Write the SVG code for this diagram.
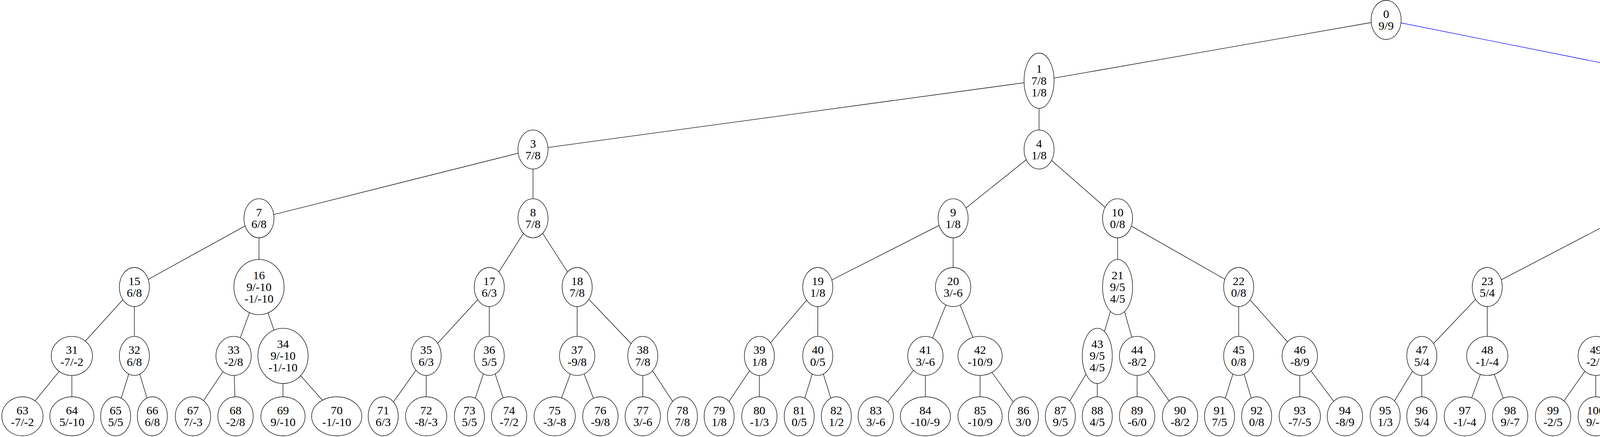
<svg xmlns="http://www.w3.org/2000/svg" width="7200" height="1119" viewBox="0 0 7200 1119">
<style>
.node ellipse{fill:#fff;stroke:#000;stroke-width:1.3}
.node text{font-family:"Liberation Serif","Times New Roman",serif;font-size:30.4px;text-anchor:middle;fill:#000}
#edges path{fill:none;stroke:#000;stroke-width:1.3}
#edges path.b{stroke:#0000ff}
</style>
<rect width="7200" height="1119" fill="#fff"/>
<g id="edges">
<path d="M3548.5 51L2660 206.7"/>
<path class="b" d="M3548.5 51L4328.6 206.7"/>
<path d="M2660 206.7L1364.5 382.8"/>
<path d="M2660 206.7L2660 382.8"/>
<path d="M4328.6 206.7L4328.6 382.8"/>
<path class="b" d="M4328.6 206.7L5769 382.8"/>
<path d="M1364.5 382.8L663 558.9"/>
<path d="M1364.5 382.8L1364.5 558.9"/>
<path d="M2660 382.8L2440 558.9"/>
<path d="M2660 382.8L2861 558.9"/>
<path d="M4328.6 382.8L4145.6 558.9"/>
<path d="M4328.6 382.8L4630.9 558.9"/>
<path class="b" d="M5769 382.8L5769 558.9"/>
<path d="M5769 382.8L6519 558.9"/>
<path d="M663 558.9L344 735"/>
<path d="M663 558.9L663 735"/>
<path d="M1364.5 558.9L1252.5 735"/>
<path d="M1364.5 558.9L1477.5 735"/>
<path d="M2440 558.9L2093.5 735"/>
<path d="M2440 558.9L2440 735"/>
<path d="M2861 558.9L2861 735"/>
<path d="M2861 558.9L3171 735"/>
<path d="M4145.6 558.9L3807.4 735"/>
<path d="M4145.6 558.9L4145.6 735"/>
<path d="M4630.9 558.9L4630.9 735"/>
<path d="M4630.9 558.9L4979 735"/>
<path class="b" d="M5769 558.9L5709 735"/>
<path d="M5769 558.9L5948.5 735"/>
<path d="M6519 558.9L6519 735"/>
<path d="M6519 558.9L6861 735"/>
<path d="M344 735L184 911.3"/>
<path d="M344 735L344 911.3"/>
<path d="M663 735L598 911.3"/>
<path d="M663 735L724.5 911.3"/>
<path d="M1252.5 735L1091 911.3"/>
<path d="M1252.5 735L1252.5 911.3"/>
<path d="M1477.5 735L1477.5 911.3"/>
<path d="M1477.5 735L1645.5 911.3"/>
<path d="M2093.5 735L1944 911.3"/>
<path d="M2093.5 735L2093.5 911.3"/>
<path d="M2440 735L2369 911.3"/>
<path d="M2440 735L2509 911.3"/>
<path d="M2861 735L2809 911.3"/>
<path d="M2861 735L2911 911.3"/>
<path d="M3171 735L3171 911.3"/>
<path d="M3171 735L3327.5 911.3"/>
<path d="M3807.4 735L3639.8 911.3"/>
<path d="M3807.4 735L3807.4 911.3"/>
<path d="M4145.6 735L4085.2 911.3"/>
<path d="M4145.6 735L4206.1 911.3"/>
<path d="M4630.9 735L4569.6 911.3"/>
<path d="M4630.9 735L4691 911.3"/>
<path d="M4979 735L4979 911.3"/>
<path d="M4979 735L5157.4 911.3"/>
<path class="b" d="M5709 735L5517.8 911.3"/>
<path d="M5709 735L5709 911.3"/>
<path d="M5948.5 735L5948.5 911.3"/>
<path d="M5948.5 735L6120 911.3"/>
<path d="M6519 735L6463.4 911.3"/>
<path d="M6519 735L6573 911.3"/>
<path d="M6861 735L6861 911.3"/>
<path d="M6861 735L7040 911.3"/>
<path d="M184 911.3L57.4 1066"/>
<path d="M184 911.3L184 1066"/>
<path d="M344 911.3L296 1066"/>
<path d="M344 911.3L390 1066"/>
<path d="M598 911.3L494 1066"/>
<path d="M598 911.3L603 1066"/>
<path d="M724.5 911.3L724.5 1066"/>
<path d="M724.5 911.3L862 1066"/>
<path d="M1091 911.3L981 1066"/>
<path d="M1091 911.3L1091 1066"/>
<path d="M1252.5 911.3L1201.7 1066"/>
<path d="M1252.5 911.3L1303.3 1066"/>
<path d="M1477.5 911.3L1420 1066"/>
<path d="M1477.5 911.3L1537 1066"/>
<path d="M1645.5 911.3L1645.5 1066"/>
<path d="M1645.5 911.3L1747 1066"/>
<path d="M1944 911.3L1841 1066"/>
<path d="M1944 911.3L1944 1066"/>
<path d="M2093.5 911.3L2046 1066"/>
<path d="M2093.5 911.3L2141 1066"/>
<path d="M2369 911.3L2242 1066"/>
<path d="M2369 911.3L2369 1066"/>
<path d="M2509 911.3L2509 1066"/>
<path d="M2509 911.3L2620 1066"/>
<path d="M2809 911.3L2714.5 1066"/>
<path d="M2809 911.3L2809 1066"/>
<path d="M2911 911.3L2911 1066"/>
<path d="M2911 911.3L3021 1066"/>
<path d="M3171 911.3L3122 1066"/>
<path d="M3171 911.3L3217 1066"/>
<path d="M3327.5 911.3L3327.5 1066"/>
<path d="M3327.5 911.3L3443 1066"/>
<path d="M3639.8 911.3L3546 1066"/>
<path d="M3639.8 911.3L3639.8 1066"/>
<path d="M3807.4 911.3L3750 1066"/>
<path d="M3807.4 911.3L3866 1066"/>
<path d="M4085.2 911.3L3975.8 1066"/>
<path d="M4085.2 911.3L4085.2 1066"/>
<path d="M4206.1 911.3L4206.1 1066"/>
<path d="M4206.1 911.3L4327 1066"/>
<path d="M4569.6 911.3L4442.6 1066"/>
<path d="M4569.6 911.3L4569.6 1066"/>
<path d="M4691 911.3L4691 1066"/>
<path d="M4691 911.3L4800.5 1066"/>
<path d="M4979 911.3L4916 1066"/>
<path d="M4979 911.3L5041 1066"/>
<path d="M5157.4 911.3L5157.4 1066"/>
<path d="M5157.4 911.3L5276.8 1066"/>
<path d="M5517.8 911.3L5404.6 1066"/>
<path class="b" d="M5517.8 911.3L5517.8 1066"/>
<path d="M5709 911.3L5642.6 1066"/>
<path d="M5709 911.3L5777.3 1066"/>
<path d="M5948.5 911.3L5894 1066"/>
<path d="M5948.5 911.3L6003.3 1066"/>
<path d="M6120 911.3L6120 1066"/>
<path d="M6120 911.3L6233.4 1066"/>
<path d="M6463.4 911.3L6347.4 1066"/>
<path d="M6463.4 911.3L6463.4 1066"/>
<path d="M6573 911.3L6573 1066"/>
<path d="M6573 911.3L6683.4 1066"/>
<path d="M6861 911.3L6799.7 1066"/>
<path d="M6861 911.3L6923.7 1066"/>
<path d="M7040 911.3L7040 1066"/>
<path d="M7040 911.3L7150.2 1066"/>
</g>
<g id="n0" class="node"><ellipse cx="3548.5" cy="51" rx="38.5" ry="50"/><text x="3548.5" y="45.7">0</text><text x="3548.5" y="76.2">9/9</text></g>
<g id="n1" class="node"><ellipse cx="2660" cy="206.7" rx="38.5" ry="70.7"/><text x="2660" y="186.2">1</text><text x="2660" y="216.5">7/8</text><text x="2660" y="246.8">1/8</text></g>
<g id="n2" class="node"><ellipse cx="4328.6" cy="206.7" rx="38.5" ry="50"/><text x="4328.6" y="201.4">2</text><text x="4328.6" y="231.9">9/9</text></g>
<g id="n3" class="node"><ellipse cx="1364.5" cy="382.8" rx="38.5" ry="50"/><text x="1364.5" y="377.5">3</text><text x="1364.5" y="408">7/8</text></g>
<g id="n4" class="node"><ellipse cx="2660" cy="382.8" rx="38.5" ry="50"/><text x="2660" y="377.5">4</text><text x="2660" y="408">1/8</text></g>
<g id="n5" class="node"><ellipse cx="4328.6" cy="382.8" rx="45.2" ry="70.7"/><text x="4328.6" y="362.3">5</text><text x="4328.6" y="392.6">-2/5</text><text x="4328.6" y="422.9">-2/4</text></g>
<g id="n6" class="node"><ellipse cx="5769" cy="382.8" rx="38.5" ry="50"/><text x="5769" y="377.5">6</text><text x="5769" y="408">9/9</text></g>
<g id="n7" class="node"><ellipse cx="663" cy="558.9" rx="38.5" ry="50"/><text x="663" y="553.6">7</text><text x="663" y="584.1">6/8</text></g>
<g id="n8" class="node"><ellipse cx="1364.5" cy="558.9" rx="38.5" ry="50"/><text x="1364.5" y="553.6">8</text><text x="1364.5" y="584.1">7/8</text></g>
<g id="n9" class="node"><ellipse cx="2440" cy="558.9" rx="38.5" ry="50"/><text x="2440" y="553.6">9</text><text x="2440" y="584.1">1/8</text></g>
<g id="n10" class="node"><ellipse cx="2861" cy="558.9" rx="38.5" ry="50"/><text x="2861" y="553.6">10</text><text x="2861" y="584.1">0/8</text></g>
<g id="n11" class="node"><ellipse cx="4145.6" cy="558.9" rx="45.2" ry="70.7"/><text x="4145.6" y="538.4">11</text><text x="4145.6" y="568.7">-2/5</text><text x="4145.6" y="599">-2/4</text></g>
<g id="n12" class="node"><ellipse cx="4630.9" cy="558.9" rx="45.2" ry="70.7"/><text x="4630.9" y="538.4">12</text><text x="4630.9" y="568.7">-7/1</text><text x="4630.9" y="599">-4/1</text></g>
<g id="n13" class="node"><ellipse cx="5769" cy="558.9" rx="38.5" ry="50"/><text x="5769" y="553.6">13</text><text x="5769" y="584.1">9/9</text></g>
<g id="n14" class="node"><ellipse cx="6519" cy="558.9" rx="52.8" ry="50"/><text x="6519" y="553.6">14</text><text x="6519" y="584.1">-4/-1</text></g>
<g id="n15" class="node"><ellipse cx="344" cy="735" rx="38.5" ry="50"/><text x="344" y="729.7">15</text><text x="344" y="760.2">6/8</text></g>
<g id="n16" class="node"><ellipse cx="663" cy="735" rx="64.3" ry="70.7"/><text x="663" y="714.5">16</text><text x="663" y="744.8">9/-10</text><text x="663" y="775.1">-1/-10</text></g>
<g id="n17" class="node"><ellipse cx="1252.5" cy="735" rx="38.5" ry="50"/><text x="1252.5" y="729.7">17</text><text x="1252.5" y="760.2">6/3</text></g>
<g id="n18" class="node"><ellipse cx="1477.5" cy="735" rx="38.5" ry="50"/><text x="1477.5" y="729.7">18</text><text x="1477.5" y="760.2">7/8</text></g>
<g id="n19" class="node"><ellipse cx="2093.5" cy="735" rx="38.5" ry="50"/><text x="2093.5" y="729.7">19</text><text x="2093.5" y="760.2">1/8</text></g>
<g id="n20" class="node"><ellipse cx="2440" cy="735" rx="45.2" ry="50"/><text x="2440" y="729.7">20</text><text x="2440" y="760.2">3/-6</text></g>
<g id="n21" class="node"><ellipse cx="2861" cy="735" rx="38.5" ry="70.7"/><text x="2861" y="714.5">21</text><text x="2861" y="744.8">9/5</text><text x="2861" y="775.1">4/5</text></g>
<g id="n22" class="node"><ellipse cx="3171" cy="735" rx="38.5" ry="50"/><text x="3171" y="729.7">22</text><text x="3171" y="760.2">0/8</text></g>
<g id="n23" class="node"><ellipse cx="3807.4" cy="735" rx="38.5" ry="50"/><text x="3807.4" y="729.7">23</text><text x="3807.4" y="760.2">5/4</text></g>
<g id="n24" class="node"><ellipse cx="4145.6" cy="735" rx="45.2" ry="70.7"/><text x="4145.6" y="714.5">24</text><text x="4145.6" y="744.8">-2/5</text><text x="4145.6" y="775.1">-2/4</text></g>
<g id="n25" class="node"><ellipse cx="4630.9" cy="735" rx="45.2" ry="70.7"/><text x="4630.9" y="714.5">25</text><text x="4630.9" y="744.8">-7/1</text><text x="4630.9" y="775.1">-4/1</text></g>
<g id="n26" class="node"><ellipse cx="4979" cy="735" rx="45.2" ry="50"/><text x="4979" y="729.7">26</text><text x="4979" y="760.2">6/-8</text></g>
<g id="n27" class="node"><ellipse cx="5709" cy="735" rx="38.5" ry="50"/><text x="5709" y="729.7">27</text><text x="5709" y="760.2">9/9</text></g>
<g id="n28" class="node"><ellipse cx="5948.5" cy="735" rx="38.5" ry="50"/><text x="5948.5" y="729.7">28</text><text x="5948.5" y="760.2">6/5</text></g>
<g id="n29" class="node"><ellipse cx="6519" cy="735" rx="45.2" ry="50"/><text x="6519" y="729.7">29</text><text x="6519" y="760.2">2/-7</text></g>
<g id="n30" class="node"><ellipse cx="6861" cy="735" rx="52.8" ry="50"/><text x="6861" y="729.7">30</text><text x="6861" y="760.2">-4/-1</text></g>
<g id="n31" class="node"><ellipse cx="184" cy="911.3" rx="52.8" ry="50"/><text x="184" y="906">31</text><text x="184" y="936.5">-7/-2</text></g>
<g id="n32" class="node"><ellipse cx="344" cy="911.3" rx="38.5" ry="50"/><text x="344" y="906">32</text><text x="344" y="936.5">6/8</text></g>
<g id="n33" class="node"><ellipse cx="598" cy="911.3" rx="45.2" ry="50"/><text x="598" y="906">33</text><text x="598" y="936.5">-2/8</text></g>
<g id="n34" class="node"><ellipse cx="724.5" cy="911.3" rx="64.3" ry="70.7"/><text x="724.5" y="890.8">34</text><text x="724.5" y="921.1">9/-10</text><text x="724.5" y="951.4">-1/-10</text></g>
<g id="n35" class="node"><ellipse cx="1091" cy="911.3" rx="38.5" ry="50"/><text x="1091" y="906">35</text><text x="1091" y="936.5">6/3</text></g>
<g id="n36" class="node"><ellipse cx="1252.5" cy="911.3" rx="38.5" ry="50"/><text x="1252.5" y="906">36</text><text x="1252.5" y="936.5">5/5</text></g>
<g id="n37" class="node"><ellipse cx="1477.5" cy="911.3" rx="45.2" ry="50"/><text x="1477.5" y="906">37</text><text x="1477.5" y="936.5">-9/8</text></g>
<g id="n38" class="node"><ellipse cx="1645.5" cy="911.3" rx="38.5" ry="50"/><text x="1645.5" y="906">38</text><text x="1645.5" y="936.5">7/8</text></g>
<g id="n39" class="node"><ellipse cx="1944" cy="911.3" rx="38.5" ry="50"/><text x="1944" y="906">39</text><text x="1944" y="936.5">1/8</text></g>
<g id="n40" class="node"><ellipse cx="2093.5" cy="911.3" rx="38.5" ry="50"/><text x="2093.5" y="906">40</text><text x="2093.5" y="936.5">0/5</text></g>
<g id="n41" class="node"><ellipse cx="2369" cy="911.3" rx="45.2" ry="50"/><text x="2369" y="906">41</text><text x="2369" y="936.5">3/-6</text></g>
<g id="n42" class="node"><ellipse cx="2509" cy="911.3" rx="56.6" ry="50"/><text x="2509" y="906">42</text><text x="2509" y="936.5">-10/9</text></g>
<g id="n43" class="node"><ellipse cx="2809" cy="911.3" rx="38.5" ry="70.7"/><text x="2809" y="890.8">43</text><text x="2809" y="921.1">9/5</text><text x="2809" y="951.4">4/5</text></g>
<g id="n44" class="node"><ellipse cx="2911" cy="911.3" rx="45.2" ry="50"/><text x="2911" y="906">44</text><text x="2911" y="936.5">-8/2</text></g>
<g id="n45" class="node"><ellipse cx="3171" cy="911.3" rx="38.5" ry="50"/><text x="3171" y="906">45</text><text x="3171" y="936.5">0/8</text></g>
<g id="n46" class="node"><ellipse cx="3327.5" cy="911.3" rx="45.2" ry="50"/><text x="3327.5" y="906">46</text><text x="3327.5" y="936.5">-8/9</text></g>
<g id="n47" class="node"><ellipse cx="3639.8" cy="911.3" rx="38.5" ry="50"/><text x="3639.8" y="906">47</text><text x="3639.8" y="936.5">5/4</text></g>
<g id="n48" class="node"><ellipse cx="3807.4" cy="911.3" rx="52.8" ry="50"/><text x="3807.4" y="906">48</text><text x="3807.4" y="936.5">-1/-4</text></g>
<g id="n49" class="node"><ellipse cx="4085.2" cy="911.3" rx="45.2" ry="50"/><text x="4085.2" y="906">49</text><text x="4085.2" y="936.5">-2/5</text></g>
<g id="n50" class="node"><ellipse cx="4206.1" cy="911.3" rx="45.2" ry="50"/><text x="4206.1" y="906">50</text><text x="4206.1" y="936.5">-2/4</text></g>
<g id="n51" class="node"><ellipse cx="4569.6" cy="911.3" rx="52.8" ry="50"/><text x="4569.6" y="906">51</text><text x="4569.6" y="936.5">-8/-1</text></g>
<g id="n52" class="node"><ellipse cx="4691" cy="911.3" rx="45.2" ry="70.7"/><text x="4691" y="890.8">52</text><text x="4691" y="921.1">-7/1</text><text x="4691" y="951.4">-4/1</text></g>
<g id="n53" class="node"><ellipse cx="4979" cy="911.3" rx="52.8" ry="50"/><text x="4979" y="906">53</text><text x="4979" y="936.5">-1/-1</text></g>
<g id="n54" class="node"><ellipse cx="5157.4" cy="911.3" rx="45.2" ry="50"/><text x="5157.4" y="906">54</text><text x="5157.4" y="936.5">6/-8</text></g>
<g id="n55" class="node"><ellipse cx="5517.8" cy="911.3" rx="38.5" ry="50"/><text x="5517.8" y="906">55</text><text x="5517.8" y="936.5">9/9</text></g>
<g id="n56" class="node"><ellipse cx="5709" cy="911.3" rx="52.8" ry="50"/><text x="5709" y="906">56</text><text x="5709" y="936.5">-1/-8</text></g>
<g id="n57" class="node"><ellipse cx="5948.5" cy="911.3" rx="45.2" ry="50"/><text x="5948.5" y="906">57</text><text x="5948.5" y="936.5">-4/9</text></g>
<g id="n58" class="node"><ellipse cx="6120" cy="911.3" rx="38.5" ry="50"/><text x="6120" y="906">58</text><text x="6120" y="936.5">6/5</text></g>
<g id="n59" class="node"><ellipse cx="6463.4" cy="911.3" rx="45.2" ry="50"/><text x="6463.4" y="906">59</text><text x="6463.4" y="936.5">2/-7</text></g>
<g id="n60" class="node"><ellipse cx="6573" cy="911.3" rx="45.2" ry="50"/><text x="6573" y="906">60</text><text x="6573" y="936.5">-1/7</text></g>
<g id="n61" class="node"><ellipse cx="6861" cy="911.3" rx="52.8" ry="50"/><text x="6861" y="906">61</text><text x="6861" y="936.5">-4/-1</text></g>
<g id="n62" class="node"><ellipse cx="7040" cy="911.3" rx="45.2" ry="50"/><text x="7040" y="906">62</text><text x="7040" y="936.5">-5/6</text></g>
<g id="n63" class="node"><ellipse cx="57.4" cy="1066" rx="52.8" ry="50"/><text x="57.4" y="1060.7">63</text><text x="57.4" y="1091.2">-7/-2</text></g>
<g id="n64" class="node"><ellipse cx="184" cy="1066" rx="56.6" ry="50"/><text x="184" y="1060.7">64</text><text x="184" y="1091.2">5/-10</text></g>
<g id="n65" class="node"><ellipse cx="296" cy="1066" rx="38.5" ry="50"/><text x="296" y="1060.7">65</text><text x="296" y="1091.2">5/5</text></g>
<g id="n66" class="node"><ellipse cx="390" cy="1066" rx="38.5" ry="50"/><text x="390" y="1060.7">66</text><text x="390" y="1091.2">6/8</text></g>
<g id="n67" class="node"><ellipse cx="494" cy="1066" rx="45.2" ry="50"/><text x="494" y="1060.7">67</text><text x="494" y="1091.2">7/-3</text></g>
<g id="n68" class="node"><ellipse cx="603" cy="1066" rx="45.2" ry="50"/><text x="603" y="1060.7">68</text><text x="603" y="1091.2">-2/8</text></g>
<g id="n69" class="node"><ellipse cx="724.5" cy="1066" rx="56.6" ry="50"/><text x="724.5" y="1060.7">69</text><text x="724.5" y="1091.2">9/-10</text></g>
<g id="n70" class="node"><ellipse cx="862" cy="1066" rx="64.3" ry="50"/><text x="862" y="1060.7">70</text><text x="862" y="1091.2">-1/-10</text></g>
<g id="n71" class="node"><ellipse cx="981" cy="1066" rx="38.5" ry="50"/><text x="981" y="1060.7">71</text><text x="981" y="1091.2">6/3</text></g>
<g id="n72" class="node"><ellipse cx="1091" cy="1066" rx="52.8" ry="50"/><text x="1091" y="1060.7">72</text><text x="1091" y="1091.2">-8/-3</text></g>
<g id="n73" class="node"><ellipse cx="1201.7" cy="1066" rx="38.5" ry="50"/><text x="1201.7" y="1060.7">73</text><text x="1201.7" y="1091.2">5/5</text></g>
<g id="n74" class="node"><ellipse cx="1303.3" cy="1066" rx="45.2" ry="50"/><text x="1303.3" y="1060.7">74</text><text x="1303.3" y="1091.2">-7/2</text></g>
<g id="n75" class="node"><ellipse cx="1420" cy="1066" rx="52.8" ry="50"/><text x="1420" y="1060.7">75</text><text x="1420" y="1091.2">-3/-8</text></g>
<g id="n76" class="node"><ellipse cx="1537" cy="1066" rx="45.2" ry="50"/><text x="1537" y="1060.7">76</text><text x="1537" y="1091.2">-9/8</text></g>
<g id="n77" class="node"><ellipse cx="1645.5" cy="1066" rx="45.2" ry="50"/><text x="1645.5" y="1060.7">77</text><text x="1645.5" y="1091.2">3/-6</text></g>
<g id="n78" class="node"><ellipse cx="1747" cy="1066" rx="38.5" ry="50"/><text x="1747" y="1060.7">78</text><text x="1747" y="1091.2">7/8</text></g>
<g id="n79" class="node"><ellipse cx="1841" cy="1066" rx="38.5" ry="50"/><text x="1841" y="1060.7">79</text><text x="1841" y="1091.2">1/8</text></g>
<g id="n80" class="node"><ellipse cx="1944" cy="1066" rx="45.2" ry="50"/><text x="1944" y="1060.7">80</text><text x="1944" y="1091.2">-1/3</text></g>
<g id="n81" class="node"><ellipse cx="2046" cy="1066" rx="38.5" ry="50"/><text x="2046" y="1060.7">81</text><text x="2046" y="1091.2">0/5</text></g>
<g id="n82" class="node"><ellipse cx="2141" cy="1066" rx="38.5" ry="50"/><text x="2141" y="1060.7">82</text><text x="2141" y="1091.2">1/2</text></g>
<g id="n83" class="node"><ellipse cx="2242" cy="1066" rx="45.2" ry="50"/><text x="2242" y="1060.7">83</text><text x="2242" y="1091.2">3/-6</text></g>
<g id="n84" class="node"><ellipse cx="2369" cy="1066" rx="64.3" ry="50"/><text x="2369" y="1060.7">84</text><text x="2369" y="1091.2">-10/-9</text></g>
<g id="n85" class="node"><ellipse cx="2509" cy="1066" rx="56.6" ry="50"/><text x="2509" y="1060.7">85</text><text x="2509" y="1091.2">-10/9</text></g>
<g id="n86" class="node"><ellipse cx="2620" cy="1066" rx="38.5" ry="50"/><text x="2620" y="1060.7">86</text><text x="2620" y="1091.2">3/0</text></g>
<g id="n87" class="node"><ellipse cx="2714.5" cy="1066" rx="38.5" ry="50"/><text x="2714.5" y="1060.7">87</text><text x="2714.5" y="1091.2">9/5</text></g>
<g id="n88" class="node"><ellipse cx="2809" cy="1066" rx="38.5" ry="50"/><text x="2809" y="1060.7">88</text><text x="2809" y="1091.2">4/5</text></g>
<g id="n89" class="node"><ellipse cx="2911" cy="1066" rx="45.2" ry="50"/><text x="2911" y="1060.7">89</text><text x="2911" y="1091.2">-6/0</text></g>
<g id="n90" class="node"><ellipse cx="3021" cy="1066" rx="45.2" ry="50"/><text x="3021" y="1060.7">90</text><text x="3021" y="1091.2">-8/2</text></g>
<g id="n91" class="node"><ellipse cx="3122" cy="1066" rx="38.5" ry="50"/><text x="3122" y="1060.7">91</text><text x="3122" y="1091.2">7/5</text></g>
<g id="n92" class="node"><ellipse cx="3217" cy="1066" rx="38.5" ry="50"/><text x="3217" y="1060.7">92</text><text x="3217" y="1091.2">0/8</text></g>
<g id="n93" class="node"><ellipse cx="3327.5" cy="1066" rx="52.8" ry="50"/><text x="3327.5" y="1060.7">93</text><text x="3327.5" y="1091.2">-7/-5</text></g>
<g id="n94" class="node"><ellipse cx="3443" cy="1066" rx="45.2" ry="50"/><text x="3443" y="1060.7">94</text><text x="3443" y="1091.2">-8/9</text></g>
<g id="n95" class="node"><ellipse cx="3546" cy="1066" rx="38.5" ry="50"/><text x="3546" y="1060.7">95</text><text x="3546" y="1091.2">1/3</text></g>
<g id="n96" class="node"><ellipse cx="3639.8" cy="1066" rx="38.5" ry="50"/><text x="3639.8" y="1060.7">96</text><text x="3639.8" y="1091.2">5/4</text></g>
<g id="n97" class="node"><ellipse cx="3750" cy="1066" rx="52.8" ry="50"/><text x="3750" y="1060.7">97</text><text x="3750" y="1091.2">-1/-4</text></g>
<g id="n98" class="node"><ellipse cx="3866" cy="1066" rx="45.2" ry="50"/><text x="3866" y="1060.7">98</text><text x="3866" y="1091.2">9/-7</text></g>
<g id="n99" class="node"><ellipse cx="3975.8" cy="1066" rx="45.2" ry="50"/><text x="3975.8" y="1060.7">99</text><text x="3975.8" y="1091.2">-2/5</text></g>
<g id="n100" class="node"><ellipse cx="4085.2" cy="1066" rx="45.2" ry="50"/><text x="4085.2" y="1060.7">100</text><text x="4085.2" y="1091.2">9/-6</text></g>
<g id="n101" class="node"><ellipse cx="4206.1" cy="1066" rx="56.6" ry="50"/><text x="4206.1" y="1060.7">101</text><text x="4206.1" y="1091.2">0/-10</text></g>
<g id="n102" class="node"><ellipse cx="4327" cy="1066" rx="45.2" ry="50"/><text x="4327" y="1060.7">102</text><text x="4327" y="1091.2">-2/4</text></g>
<g id="n103" class="node"><ellipse cx="4442.6" cy="1066" rx="52.8" ry="50"/><text x="4442.6" y="1060.7">103</text><text x="4442.6" y="1091.2">-8/-1</text></g>
<g id="n104" class="node"><ellipse cx="4569.6" cy="1066" rx="56.6" ry="50"/><text x="4569.6" y="1060.7">104</text><text x="4569.6" y="1091.2">3/-10</text></g>
<g id="n105" class="node"><ellipse cx="4691" cy="1066" rx="45.2" ry="50"/><text x="4691" y="1060.7">105</text><text x="4691" y="1091.2">-7/1</text></g>
<g id="n106" class="node"><ellipse cx="4800.5" cy="1066" rx="45.2" ry="50"/><text x="4800.5" y="1060.7">106</text><text x="4800.5" y="1091.2">-4/1</text></g>
<g id="n107" class="node"><ellipse cx="4916" cy="1066" rx="52.8" ry="50"/><text x="4916" y="1060.7">107</text><text x="4916" y="1091.2">-1/-1</text></g>
<g id="n108" class="node"><ellipse cx="5041" cy="1066" rx="52.8" ry="50"/><text x="5041" y="1060.7">108</text><text x="5041" y="1091.2">-9/-9</text></g>
<g id="n109" class="node"><ellipse cx="5157.4" cy="1066" rx="45.2" ry="50"/><text x="5157.4" y="1060.7">109</text><text x="5157.4" y="1091.2">6/-8</text></g>
<g id="n110" class="node"><ellipse cx="5276.8" cy="1066" rx="56.6" ry="50"/><text x="5276.8" y="1060.7">110</text><text x="5276.8" y="1091.2">3/-10</text></g>
<g id="n111" class="node"><ellipse cx="5404.6" cy="1066" rx="52.8" ry="50"/><text x="5404.6" y="1060.7">111</text><text x="5404.6" y="1091.2">-6/-3</text></g>
<g id="n112" class="node"><ellipse cx="5517.8" cy="1066" rx="42.6" ry="50"/><text x="5517.8" y="1060.7">112</text><text x="5517.8" y="1091.2">9/9</text></g>
<g id="n113" class="node"><ellipse cx="5642.6" cy="1066" rx="64.3" ry="50"/><text x="5642.6" y="1060.7">113</text><text x="5642.6" y="1091.2">-5/-10</text></g>
<g id="n114" class="node"><ellipse cx="5777.3" cy="1066" rx="52.8" ry="50"/><text x="5777.3" y="1060.7">114</text><text x="5777.3" y="1091.2">-1/-8</text></g>
<g id="n115" class="node"><ellipse cx="5894" cy="1066" rx="45.2" ry="50"/><text x="5894" y="1060.7">115</text><text x="5894" y="1091.2">-4/9</text></g>
<g id="n116" class="node"><ellipse cx="6003.3" cy="1066" rx="45.2" ry="50"/><text x="6003.3" y="1060.7">116</text><text x="6003.3" y="1091.2">-5/6</text></g>
<g id="n117" class="node"><ellipse cx="6120" cy="1066" rx="52.8" ry="50"/><text x="6120" y="1060.7">117</text><text x="6120" y="1091.2">-7/-3</text></g>
<g id="n118" class="node"><ellipse cx="6233.4" cy="1066" rx="42.6" ry="50"/><text x="6233.4" y="1060.7">118</text><text x="6233.4" y="1091.2">6/5</text></g>
<g id="n119" class="node"><ellipse cx="6347.4" cy="1066" rx="52.8" ry="50"/><text x="6347.4" y="1060.7">119</text><text x="6347.4" y="1091.2">-9/-9</text></g>
<g id="n120" class="node"><ellipse cx="6463.4" cy="1066" rx="45.2" ry="50"/><text x="6463.4" y="1060.7">120</text><text x="6463.4" y="1091.2">2/-7</text></g>
<g id="n121" class="node"><ellipse cx="6573" cy="1066" rx="45.2" ry="50"/><text x="6573" y="1060.7">121</text><text x="6573" y="1091.2">-1/7</text></g>
<g id="n122" class="node"><ellipse cx="6683.4" cy="1066" rx="45.2" ry="50"/><text x="6683.4" y="1060.7">122</text><text x="6683.4" y="1091.2">-2/0</text></g>
<g id="n123" class="node"><ellipse cx="6799.7" cy="1066" rx="52.8" ry="50"/><text x="6799.7" y="1060.7">123</text><text x="6799.7" y="1091.2">-4/-1</text></g>
<g id="n124" class="node"><ellipse cx="6923.7" cy="1066" rx="52.8" ry="50"/><text x="6923.7" y="1060.7">124</text><text x="6923.7" y="1091.2">-3/-8</text></g>
<g id="n125" class="node"><ellipse cx="7040" cy="1066" rx="45.2" ry="50"/><text x="7040" y="1060.7">125</text><text x="7040" y="1091.2">0/-9</text></g>
<g id="n126" class="node"><ellipse cx="7150.2" cy="1066" rx="45.2" ry="50"/><text x="7150.2" y="1060.7">126</text><text x="7150.2" y="1091.2">-5/6</text></g>
</svg>
